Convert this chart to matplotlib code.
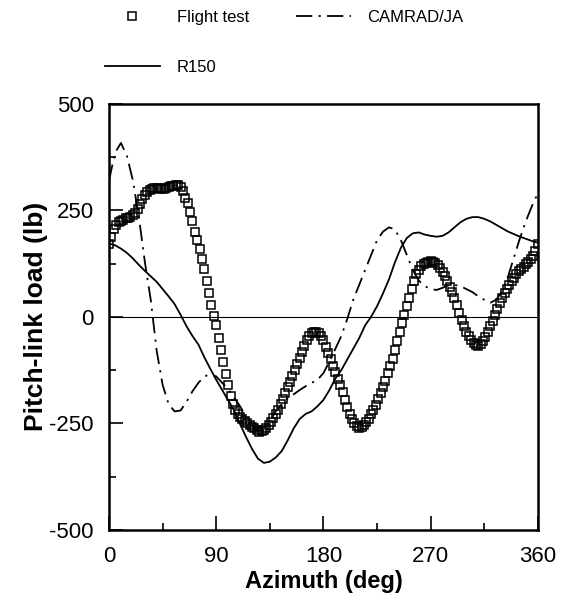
import numpy as np
import matplotlib.pyplot as plt
from matplotlib.ticker import MultipleLocator

plt.rcParams['font.family'] = ['Liberation Sans', 'DejaVu Sans']
plt.rcParams['axes.unicode_minus'] = False

# Flight test, one reading every 2 deg of azimuth
flight_az = list(range(0, 361, 2))
flight_load = [170, 188, 205, 215, 222, 226, 228, 231, 233, 235, 238, 244, 252,
               264, 276, 285, 292, 297, 300, 302, 302, 302, 300, 300, 302, 304,
               306, 308, 310, 309, 305, 295, 280, 268, 246, 224, 200, 180, 160,
               135, 112, 85, 55, 28, 2, -20, -50, -78, -105, -135, -160, -185,
               -204, -218, -228, -235, -240, -245, -250, -255, -258, -262, -266,
               -270, -269, -266, -260, -254, -246, -238, -229, -218, -205, -192,
               -178, -165, -152, -138, -125, -110, -96, -82, -68, -55, -45, -38,
               -35, -35, -38, -46, -55, -70, -85, -100, -115, -130, -145, -160,
               -177, -195, -212, -227, -240, -250, -256, -260, -259, -255, -248,
               -239, -229, -218, -206, -193, -180, -165, -150, -133, -116, -98,
               -78, -56, -35, -15, 5, 25, 45, 65, 85, 100, 111, 119, 123, 126, 129,
               130, 129, 126, 122, 114, 105, 95, 84, 71, 58, 43, 27, 10, -7, -22,
               -35, -46, -55, -62, -66, -68, -65, -57, -47, -35, -22, -9, 5, 18,
               32, 45, 55, 65, 75, 84, 92, 100, 107, 113, 118, 123, 128, 135, 143,
               155, 170]

# predictions, every 5 deg
calc_az = list(range(0, 361, 5))
camrad = [320, 385, 408, 378, 320, 235, 130, 40, -80, -160, -205, -222, -220,
          -200, -175, -155, -140, -135, -140, -155, -170, -190, -210, -235, -255,
          -268, -265, -245, -222, -205, -192, -182, -172, -163, -155, -148, -132,
          -105, -75, -45, -5, 40, 75, 110, 145, 180, 200, 210, 205, 180, 145,
          110, 85, 72, 65, 63, 68, 74, 75, 72, 65, 58, 48, 40, 33, 40, 60, 95,
          140, 185, 225, 260, 290]
r150 = [172, 168, 160, 150, 137, 122, 108, 95, 82, 65, 48, 30, 5, -22, -45,
        -65, -95, -122, -148, -172, -196, -220, -252, -282, -310, -333, -343,
        -340, -330, -315, -290, -262, -240, -228, -222, -210, -195, -172, -145,
        -125, -100, -75, -50, -20, 0, 25, 55, 88, 128, 162, 185, 196, 198, 193,
        190, 188, 190, 198, 210, 222, 230, 234, 234, 230, 224, 216, 208, 200,
        194, 188, 183, 178, 174]

fig = plt.figure(figsize=(5.65, 6.0), dpi=100)
ax = fig.add_axes([0.193, 0.117, 0.759, 0.710])

ax.axhline(0, color='black', lw=0.8, zorder=1)
l_ft, = ax.plot(flight_az, flight_load, ls='none', marker='s', ms=5.5,
                mfc='none', mec='black', mew=1.1, label='Flight test')
l_cam, = ax.plot(calc_az, camrad, color='black', lw=1.3,
                 ls=(0, (9, 3.5, 1.2, 3.5)), label='CAMRAD/JA')
l_r, = ax.plot(calc_az, r150, color='black', lw=1.3, label='R150')

ax.set_xlim(0, 360)
ax.set_ylim(-500, 500)
ax.xaxis.set_major_locator(MultipleLocator(90))
ax.xaxis.set_minor_locator(MultipleLocator(45))
ax.yaxis.set_major_locator(MultipleLocator(250))
ax.yaxis.set_minor_locator(MultipleLocator(125))
ax.tick_params(which='both', direction='in', top=False, right=False,
               labelsize=16, width=1.2)
ax.tick_params(which='major', length=10)
ax.tick_params(which='minor', length=5)
ax.tick_params(axis='x', which='major', pad=12)
ax.tick_params(axis='y', which='major', pad=11)
for s in ax.spines.values():
    s.set_linewidth(1.8)

ax.set_xlabel('Azimuth (deg)', fontsize=17, fontweight='bold', labelpad=2)
ax.set_ylabel('Pitch-link load (lb)', fontsize=19, fontweight='bold', labelpad=1)

fig.legend([l_ft, l_r, l_cam], ['Flight test', 'R150', 'CAMRAD/JA'],
           loc='upper left', bbox_to_anchor=(0.171, 0.997), ncol=2,
           frameon=False, fontsize=12, handlelength=3.3, handletextpad=1.0,
           labelspacing=2.1, columnspacing=2.8, borderpad=0)

fig.savefig('out.png', dpi=100)
